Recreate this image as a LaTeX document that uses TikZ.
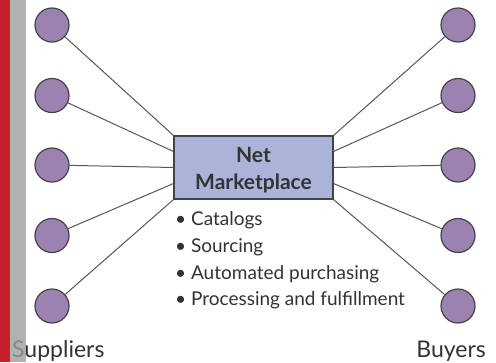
\documentclass[tikz,border=0pt]{standalone}
\usepackage{fontspec}
\setmainfont{Lato}
\usetikzlibrary{calc}
\definecolor{barred}{HTML}{C8202A}
\definecolor{bargray}{HTML}{9E9E9E}
\definecolor{dotfill}{HTML}{9B82B0}
\definecolor{boxfill}{HTML}{A9B4D8}
\definecolor{edgecol}{HTML}{444444}
\definecolor{txt}{HTML}{333333}
\tikzset{
  party/.style={circle, draw=edgecol, line width=1.2pt, fill=dotfill, minimum size=34pt, inner sep=0pt},
  market/.style={draw=edgecol, line width=1.6pt, fill=boxfill, minimum width=159pt, minimum height=63pt, inner sep=0pt},
  title/.style={font=\fontsize{21}{27}\selectfont\bfseries, text=txt, inner sep=0pt, anchor=base},
  link/.style={draw=edgecol!90, line width=1pt},
  label/.style={font=\fontsize{23}{26}\selectfont, text=txt, inner sep=0pt},
  bullet/.style={font=\fontsize{19}{26.7}\selectfont, text=txt, inner sep=0pt, anchor=base west}
}
\begin{document}
\begin{tikzpicture}[x=1pt,y=-1pt]
\useasboundingbox (0,0) rectangle (496,362);
\fill[white] (0,0) rectangle (496,362);
% labels
\node[label, anchor=base west] (sup) at (12,357) {Suppliers};
\node[label, anchor=base east] (buy) at (486,357) {Buyers};
% side bars
\fill[barred] (0,0) rectangle (10,362);
\fill[bargray, opacity=0.8] (10,0) rectangle (26,362);
% central box
\node[market] (nm) at (253.5,167.5) {};
\foreach \i in {0,...,4}{
  \coordinate (L\i) at ($(nm.north west)!\i/4!(nm.south west)$);
  \coordinate (R\i) at ($(nm.north east)!\i/4!(nm.south east)$);
}
% parties
\foreach \i/\y in {0/25,1/95.5,2/165,3/235.5,4/306}{
  \node[party] (s\i) at (52,\y) {};
  \node[party] (b\i) at (458,\y) {};
  \draw[link] (s\i) -- (L\i);
  \draw[link] (b\i) -- (R\i);
}
\node[market] at (nm) {};
\node[title] (t1) at (253.5,162) {Net};
\node[title] (t2) at (253.5,189) {Marketplace};
% bullet list
\node[bullet] (c1) at (175,225) {\textbullet\ Catalogs};
\node[bullet] (c2) at (175,252) {\textbullet\ Sourcing};
\node[bullet] (c3) at (175,279) {\textbullet\ Automated purchasing};
\node[bullet] (c4) at (175,305) {\textbullet\ Processing and fulfillment};
\end{tikzpicture}
\end{document}
